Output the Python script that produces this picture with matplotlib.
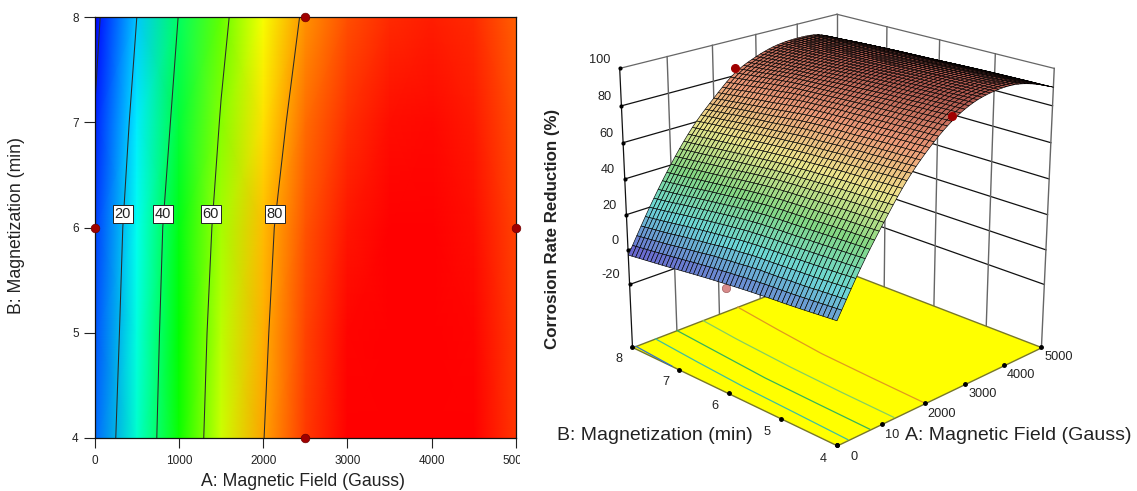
# -*- coding: utf-8 -*-
import numpy as np
import matplotlib
matplotlib.use('Agg')
import matplotlib.pyplot as plt
import matplotlib.tri as mtri
from matplotlib.colors import LinearSegmentedColormap, Normalize
from matplotlib.transforms import Bbox

# values
A_VALUES = [0, 500, 1000, 1500, 2000, 2500, 3000, 3500, 4000, 4500, 5000]
B_VALUES = [4, 5, 6, 7, 8]
R_B4 = [9.0, 31.0, 50.0, 67.0, 79.8, 89.5, 95.5, 98.0, 98.0, 95.0, 90.0]
R_B5 = [6.5, 29.5, 49.0, 65.5, 78.7, 88.5, 94.5, 97.0, 97.0, 94.5, 89.5]
R_B6 = [4.0, 28.0, 47.5, 63.5, 77.5, 87.0, 93.0, 95.5, 95.5, 93.5, 88.5]
R_B7 = [0.5, 24.3, 44.0, 60.7, 74.0, 85.0, 90.5, 93.5, 94.0, 92.5, 87.5]
R_B8 = [-3.0, 20.0, 40.4, 57.5, 70.5, 81.5, 87.5, 91.0, 92.0, 91.0, 86.0]
LEVELS = [0, 20, 40, 60, 80]
LABEL_LEVELS = [20, 40, 60, 80]
LABEL_A = [331, 809, 1376, 2137]
LABEL_B = 6.13
DESIGN_A = [0, 2500, 2500, 5000]
DESIGN_B = [6, 8, 4, 6]
DESIGN_R = [2, 84, 92, 80]
A_TICKS = [0, 1000, 2000, 3000, 4000, 5000]
B_TICKS = [4, 5, 6, 7, 8]
Z_TICKS = [-20, 0, 20, 40, 60, 80, 100]
Z_FLOOR = -57
Z_TOP = 100

plt.rcParams['font.family'] = ['Liberation Sans', 'DejaVu Sans']

a_arr = np.array(A_VALUES, dtype=float)
b_arr = np.array(B_VALUES, dtype=float)
r_arr = np.array([R_B4, R_B5, R_B6, R_B7, R_B8])
aa, bb = np.meshgrid(a_arr, b_arr)

fig = plt.figure(figsize=(11.37, 4.91), dpi=100)
W, H = 1137.0, 491.0

'''--- contour ---'''
rainbow = LinearSegmentedColormap.from_list('rb', [(0, '#0000ff'), (0.30, '#00ffff'), (0.53, '#00ff00'),
                                                   (0.76, '#ffff00'), (1, '#ff0000')])
norm = Normalize(-3, 95)
ax = fig.add_axes([94.7 / W, (H - 438) / H, 421.3 / W, 421 / H])
ax.pcolormesh(aa, bb, r_arr, cmap=rainbow, norm=norm, shading='gouraud', rasterized=True)
ax.contour(aa, bb, r_arr, levels=LEVELS, colors='#2a2a2a', linewidths=0.75)
for lev, la in zip(LABEL_LEVELS, LABEL_A):
    ax.text(la, LABEL_B, str(lev), ha='center', va='center', fontsize=10.5, color='#222222',
            bbox=dict(boxstyle='square,pad=0.12', fc='white', ec='#222222', lw=0.7))
ax.plot(DESIGN_A, DESIGN_B, 'o', ms=6.2, color='#a00000', mec='#700000', mew=0.5, clip_on=False, zorder=6)
ax.set_xlim(0, 5000)
ax.set_ylim(4, 8)
ax.set_xticks(A_TICKS)
ax.set_yticks(B_TICKS)
ax.tick_params(axis='x', length=7.5, width=0.8, pad=5, labelsize=8.5, color='#222222', labelcolor='#222222')
ax.tick_params(axis='y', length=8, width=0.8, pad=3.5, labelsize=8.5, color='#222222', labelcolor='#222222')
# the reference is cropped through the 5000 and the 8
crop = Bbox.from_extents(0, 0, 519.5, H - 12)
for lab in ax.get_xticklabels() + ax.get_yticklabels():
    lab.set_clip_box(crop)
    lab.set_clip_on(True)
for s in ax.spines.values():
    s.set_linewidth(0.9)
    s.set_color('#111111')
fig.text(303 / W, 1 - 481 / H, 'A: Magnetic Field (Gauss)', ha='center', va='center', fontsize=12.7, color='#222222')
fig.text(16.5 / W, 1 - 226 / H, 'B: Magnetization (min)', ha='center', va='center', rotation=90, fontsize=12.7,
         color='#222222')

'''--- surface ---'''
S = 501.0
ax3 = fig.add_axes([579.7 / W, 21.7 / H, S / W, S / H], projection='3d', computed_zorder=False)
ax3.set_proj_type('persp', focal_length=0.644)
ax3.view_init(elev=20.8, azim=-135)
ax3.set_box_aspect((1, 1, 1))
ax3.set_xlim(0, 5000, view_margin=0)
ax3.set_ylim(4, 8, view_margin=0)
ax3.set_zlim(Z_FLOOR, Z_TOP, view_margin=0)
ax3.set_axis_off()
ax3.patch.set_alpha(0)

# walls
wall_h = '#111111'
wall_v = '#666666'
for z in Z_TICKS:
    ax3.plot([0, 5000], [8, 8], [z, z], color=wall_v if z == 100 else wall_h, lw=0.9, zorder=1)
    ax3.plot([5000, 5000], [8, 4], [z, z], color=wall_v if z == 100 else wall_h, lw=0.9, zorder=1)
for a in A_TICKS[1:-1]:
    ax3.plot([a, a], [8, 8], [Z_FLOOR, Z_TOP], color=wall_v, lw=1.0, zorder=1)
for b in B_TICKS[1:-1]:
    ax3.plot([5000, 5000], [b, b], [Z_FLOOR, Z_TOP], color=wall_v, lw=1.0, zorder=1)
ax3.plot([0, 0], [8, 8], [Z_FLOOR, Z_TOP], color='#111111', lw=0.9, zorder=1)
ax3.plot([5000, 5000], [8, 8], [Z_FLOOR, Z_TOP], color=wall_v, lw=1.0, zorder=1)
ax3.plot([5000, 5000], [4, 4], [Z_FLOOR, Z_TOP], color=wall_v, lw=1.0, zorder=1)

# floor
ax3.plot_surface(np.array([[0, 5000], [0, 5000]]), np.array([[4, 4], [8, 8]]), np.full((2, 2), float(Z_FLOOR)),
                 color='#ffff00', edgecolor='#77772a', linewidth=1.0, shade=False, zorder=2)
ax3.contour(aa, bb, r_arr, levels=LEVELS, zdir='z', offset=Z_FLOOR, linewidths=0.9,
            colors=['#2f6fd0', '#3cc0a0', '#35b45a', '#85d060', '#e09a20'], zorder=3)
ax3.plot(A_TICKS, [4] * len(A_TICKS), [Z_FLOOR] * len(A_TICKS), 'o', ms=2.5, color='k', zorder=3)
ax3.plot([0] * len(B_TICKS), B_TICKS, [Z_FLOOR] * len(B_TICKS), 'o', ms=2.5, color='k', zorder=3)
ax3.plot([0] * len(Z_TICKS), [8] * len(Z_TICKS), Z_TICKS, 'o', ms=2.0, color='k', zorder=3)
ax3.plot([DESIGN_A[3]], [DESIGN_B[3]], [DESIGN_R[3]], 'o', ms=5.5, color='#a00000', zorder=3)

# drawing mesh only: the read values stay in R_B4..R_B8, this resamples them so the mesh has the reference's density
tri = mtri.Triangulation(aa.ravel(), bb.ravel())
interp = mtri.CubicTriInterpolator(tri, r_arr.ravel(), kind='geom')
a_mesh, b_mesh = np.meshgrid(np.linspace(0, 5000, 51), np.linspace(4, 8, 51))
r_mesh = np.ma.filled(interp(a_mesh, b_mesh), np.nan)
surf_map = LinearSegmentedColormap.from_list('sf', [(0, '#6a68d0'), (0.22, '#6cd8d8'), (0.42, '#84d884'),
                                                    (0.63, '#eee68c'), (0.82, '#ee9a78'), (1, '#b25a50')])
cols = surf_map(Normalize(-3, 95)(r_mesh[:-1, :-1]))
ax3.plot_surface(a_mesh, b_mesh, r_mesh, facecolors=cols, rstride=1, cstride=1, edgecolor='#000000',
                 linewidth=0.45, shade=False, antialiased=True, zorder=5)

# design points: the low one sits under the surface edge and is pale in the reference
ax3.plot([DESIGN_A[1], DESIGN_A[2]], [DESIGN_B[1], DESIGN_B[2]], [DESIGN_R[1], DESIGN_R[2]], 'o', ms=5.5,
         color='#a00000', zorder=6)
ax3.plot([DESIGN_A[0]], [DESIGN_B[0]], [DESIGN_R[0]], 'o', ms=6, color='#d88a8a', mec='#a06060', mew=0.5, zorder=4)

# tick labels
for z in Z_TICKS:
    ax3.text(0, 8.2, z + 3, str(z), ha='right', va='center', fontsize=9.2, color='#222222', zorder=7)
for b in B_TICKS:
    ax3.text(-300, b, Z_FLOOR - 4, str(b), ha='center', va='center', fontsize=9.2, color='#222222', zorder=7)
for a in A_TICKS:
    ax3.text(a, 3.7, Z_FLOOR - 2, str(a), ha='center', va='center', fontsize=9.2, color='#222222', zorder=7)

fig.text(654.5 / W, 1 - 435 / H, 'B: Magnetization (min)', ha='center', va='center', fontsize=14, color='#222222')
fig.text(1018 / W, 1 - 435 / H, 'A: Magnetic Field (Gauss)', ha='center', va='center', fontsize=14, color='#222222',
         bbox=dict(fc='white', ec='none', pad=4.0), zorder=10)
fig.text(553 / W, 1 - 229 / H, 'Corrosion Rate Reduction (%)', ha='center', va='center', rotation=90, fontsize=12.2,
         fontweight='bold', color='#222222')

fig.savefig('out.png', dpi=100)
